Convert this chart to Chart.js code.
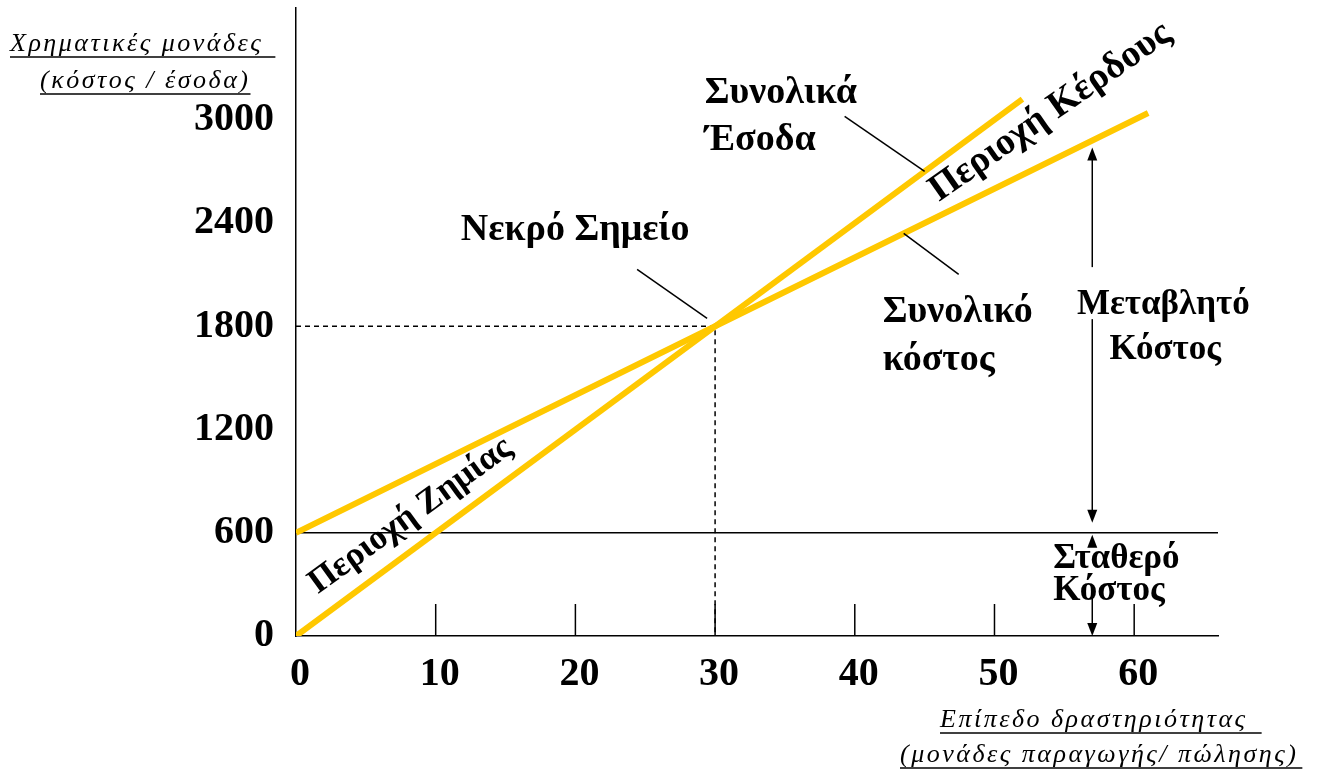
<!DOCTYPE html>
<html>
<head>
<meta charset="utf-8">
<script src="https://cdn.jsdelivr.net/npm/chart.js@4.4.1/dist/chart.umd.min.js"></script>
<style>
  html, body { margin: 0; padding: 0; background: #fff; }
  canvas { display: block; }
</style>
</head>
<body>
<canvas id="breakEvenChart" width="1318" height="772"></canvas>
<script>
// ticks
const xTicks = [0, 10, 20, 30, 40, 50, 60];
const yTicks = [0, 600, 1200, 1800, 2400, 3000];
const xMax = 66;
const yMax = 3650;

// lines (activity level -> money)
const revenueX = [0, 30, 52];
const revenueY = [0, 1800, 3120];
const costX = [0, 30, 61];
const costY = [600, 1800, 3040];
const fixedCost = 600;
const breakEvenX = 30;
const breakEvenY = 1800;

// texts
const yTitle = ['Χρηματικές μονάδες', '(κόστος / έσοδα)'];
const xTitle = ['Επίπεδο δραστηριότητας', '(μονάδες παραγωγής/ πώλησης)'];
const revenueLabel = ['Συνολικά', 'Έσοδα'];
const costLabel = ['Συνολικό', 'κόστος'];
const breakEvenLabel = 'Νεκρό Σημείο';
const variableLabel = ['Μεταβλητό', 'Κόστος'];
const fixedLabel = ['Σταθερό', 'Κόστος'];
const lossLabel = 'Περιοχή Ζημίας';
const profitLabel = 'Περιοχή Κέρδους';

const GOLD = '#FFC800';
const SERIF = '"Liberation Serif", "Times New Roman", serif';
const BOLD = 'bold 38px ' + SERIF;
const BOLD_SMALL = 'bold 35px ' + SERIF;

const toPoints = (xs, ys) => xs.map((v, i) => ({ x: v, y: ys[i] }));

// value on a polyline, for placing labels along it
function valueOn(xs, ys, v) {
  for (let i = 0; i < xs.length - 1; i++) {
    if (v <= xs[i + 1]) {
      return ys[i] + (ys[i + 1] - ys[i]) * (v - xs[i]) / (xs[i + 1] - xs[i]);
    }
  }
  const n = xs.length - 1;
  return ys[n] + (ys[n] - ys[n - 1]) * (v - xs[n]) / (xs[n] - xs[n - 1]);
}

const extras = {
  id: 'extras',
  afterDatasetsDraw(chart) {
    const { ctx, chartArea, scales: { x, y } } = chart;
    const px = v => x.getPixelForValue(v);
    const py = v => y.getPixelForValue(v);

    const line = (x1, y1, x2, y2) => {
      ctx.beginPath(); ctx.moveTo(x1, y1); ctx.lineTo(x2, y2); ctx.stroke();
    };
    const head = (hx, hy, dir) => { // dir -1 up, 1 down
      ctx.beginPath();
      ctx.moveTo(hx, hy);
      ctx.lineTo(hx - 5, hy - dir * 13);
      ctx.lineTo(hx + 5, hy - dir * 13);
      ctx.closePath(); ctx.fill();
    };
    const text = (s, tx, ty, align) => {
      ctx.textAlign = align; ctx.textBaseline = 'middle'; ctx.fillText(s, tx, ty);
    };

    ctx.save();
    ctx.strokeStyle = '#000';
    ctx.fillStyle = '#000';
    ctx.lineWidth = 1.5;

    // tick marks pointing up
    xTicks.slice(1).forEach(t => line(px(t), chartArea.bottom, px(t), chartArea.bottom - 32));

    ctx.font = BOLD;

    // break-even
    const bx = px(breakEvenX), by = py(breakEvenY);
    line(bx - 78, by - 57, bx - 8, by - 8);
    text(breakEvenLabel, bx - 140, by - 96, 'center');

    // revenue label
    const rx = px(45), ry = py(valueOn(revenueX, revenueY, 45));
    line(rx - 80, ry - 55, rx, ry);
    text(revenueLabel[0], rx - 220, ry - 78, 'left');
    text(revenueLabel[1], rx - 220, ry - 31, 'left');

    // cost label
    const cx = px(43.5), cy = py(valueOn(costX, costY, 43.5));
    line(cx, cy, cx + 55, cy + 41);
    text(costLabel[0], cx - 21, cy + 79, 'left');
    text(costLabel[1], cx - 21, cy + 127, 'left');

    // region labels
    const gx = px(54), gy = py(valueOn(costX, costY, 54));
    ctx.save();
    ctx.translate(gx, gy - 49);
    ctx.rotate(-35 * Math.PI / 180);
    text(profitLabel, 0, 0, 'center');
    ctx.restore();

    ctx.font = BOLD_SMALL;
    const lxv = 8.2;
    const lx = px(lxv);
    const ly = (py(valueOn(revenueX, revenueY, lxv)) + py(valueOn(costX, costY, lxv))) / 2 + 2;
    ctx.save();
    ctx.translate(lx, ly);
    ctx.rotate(-36 * Math.PI / 180);
    text(lossLabel, 0, 0, 'center');
    ctx.restore();

    // variable / fixed cost arrows
    const ax = px(57);
    const top = py(valueOn(costX, costY, 57)) + 7;
    const fy = py(fixedCost);
    const bottom = py(0);
    const vMid = (top + fy - 10) / 2;
    const v1 = vMid - 30;
    line(ax, top + 10, ax, v1 - 38);
    line(ax, v1 + 14, ax, fy - 20);
    head(ax, top, -1);
    head(ax, fy - 10, 1);
    text(variableLabel[0], ax + 71, v1, 'center');
    text(variableLabel[1], ax + 73, v1 + 45, 'center');

    line(ax, fy + 12, ax, fy + 14);
    line(ax, fy + 60, ax, bottom - 12);
    head(ax, fy + 2, -1);
    head(ax, bottom, 1);
    text(fixedLabel[0], ax - 39, fy + 26, 'left');
    text(fixedLabel[1], ax - 39, fy + 58, 'left');

    // axis titles, italic and underlined
    ctx.font = 'italic 26px ' + SERIF;
    ctx.letterSpacing = '2.5px';
    ctx.textBaseline = 'alphabetic';
    ctx.textAlign = 'left';
    const underlined = (s, tx, ty, extra) => {
      ctx.fillText(s, tx, ty);
      const w = ctx.measureText(s).width;
      line(tx, ty + 6, tx + w + extra, ty + 6);
    };
    underlined(yTitle[0], 10, 51, 12);
    underlined(yTitle[1], 40, 88, 0);
    underlined(xTitle[0], 940, 727, 14);
    underlined(xTitle[1], 900, 762, 4);

    ctx.restore();
  }
};

new Chart(document.getElementById('breakEvenChart'), {
  type: 'scatter',
  data: {
    datasets: [
      {
        label: 'Συνολικά Έσοδα',
        data: toPoints(revenueX, revenueY),
        showLine: true, borderColor: GOLD, borderWidth: 6, pointRadius: 0, order: 1
      },
      {
        label: 'Συνολικό κόστος',
        data: toPoints(costX, costY),
        showLine: true, borderColor: GOLD, borderWidth: 6, pointRadius: 0, order: 2
      },
      {
        label: 'Σταθερό κόστος',
        data: [{ x: 0, y: fixedCost }, { x: xMax, y: fixedCost }],
        showLine: true, borderColor: '#000', borderWidth: 1.5, pointRadius: 0, order: 3
      },
      {
        label: 'Νεκρό Σημείο',
        data: [{ x: 0, y: breakEvenY }, { x: breakEvenX, y: breakEvenY }, { x: breakEvenX, y: 0 }],
        showLine: true, borderColor: '#000', borderWidth: 1.5, borderDash: [5, 4],
        pointRadius: 0, order: 4
      }
    ]
  },
  options: {
    responsive: false,
    animation: false,
    layout: { padding: { top: 8, right: 100, left: 0, bottom: 0 } },
    plugins: { legend: { display: false }, tooltip: { enabled: false } },
    scales: {
      x: {
        type: 'linear', min: 0, max: xMax,
        afterBuildTicks: s => { s.ticks = xTicks.map(v => ({ value: v })); },
        afterFit: s => { s.height = 136; s.paddingLeft = 0; s.paddingRight = 0; },
        grid: { display: false, drawTicks: false },
        border: { display: true, color: '#000', width: 1.5 },
        ticks: {
          color: '#000', padding: 15, autoSkip: false, maxRotation: 0, labelOffset: 4,
          callback: v => String(v),
          font: { family: SERIF, size: 40, weight: 'bold' }
        }
      },
      y: {
        type: 'linear', min: 0, max: yMax,
        afterBuildTicks: s => { s.ticks = yTicks.map(v => ({ value: v })); },
        afterFit: s => { s.width = 296; s.paddingTop = 0; s.paddingBottom = 0; },
        grid: { display: false, drawTicks: false },
        border: { display: true, color: '#000', width: 1.5 },
        ticks: {
          color: '#000', padding: 22,
          callback: v => String(v),
          font: { family: SERIF, size: 40, weight: 'bold' }
        }
      }
    }
  },
  plugins: [extras]
});
</script>
</body>
</html>
